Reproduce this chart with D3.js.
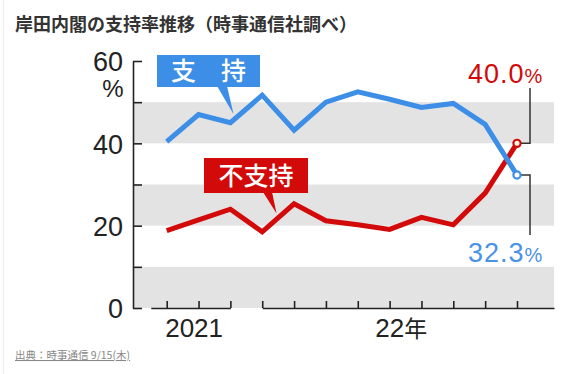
<!DOCTYPE html>
<html>
<head>
<meta charset="utf-8">
<script src="https://cdn.jsdelivr.net/npm/d3@7"></script>
<style>
  body { margin: 0; background: #fff; }
  svg { display: block; }
</style>
</head>
<body>
<div id="chart"></div>
<script>
// 岸田内閣 支持率 (時事通信) 2021/10 - 2022/09
const months = ['2021-10', '2021-11', '2021-12', '2022-01', '2022-02', '2022-03',
    '2022-04', '2022-05', '2022-06', '2022-07', '2022-08', '2022-09']
const support = [40.4, 47.0, 45.0, 51.7, 43.2, 50.0, 52.5, 50.7, 48.7, 49.7, 44.6, 32.3]
const oppose = [18.8, 21.4, 24.0, 18.5, 25.3, 21.2, 20.2, 19.1, 22.0, 20.2, 27.9, 40.0]
const yTicks = [0, 10, 20, 30, 40, 50, 60]
const yLabels = [0, 20, 40, 60]
const bands = [[0, 10], [20, 30], [40, 50]]

const W = 577
const H = 374
const blue = '#3d8ee6'
const red = '#d20a0a'
const numFont = '"Liberation Sans", Arial, sans-serif'
const jpFont = '"Noto Sans CJK JP", "Noto Sans", sans-serif'

const svg = d3.select('#chart')
    .append('svg')
    .attr('width', W)
    .attr('height', H)

const x = d3.scaleLinear()
    .domain([0, months.length - 1])
    .range([166.7, 517])
const y = d3.scaleLinear()
    .domain([0, 60])
    .range([308, 61])
const plotLeft = 133
const plotRight = 554

// faint card border
svg.append('line')
    .attr('x1', 3.5).attr('x2', 3.5)
    .attr('y1', 0).attr('y2', H)
    .attr('stroke', '#ececec')

// title
svg.append('text')
    .attr('x', 15)
    .attr('y', 31)
    .attr('font-family', jpFont)
    .attr('font-weight', 'bold')
    .attr('font-size', 18)
    .attr('fill', '#333')
    .text('岸田内閣の支持率推移（時事通信社調べ）')

// gray bands
svg.selectAll('rect.band')
    .data(bands)
    .enter()
    .append('rect')
    .attr('class', 'band')
    .attr('x', plotLeft)
    .attr('y', d => y(d[1]))
    .attr('width', plotRight - plotLeft)
    .attr('height', d => y(d[0]) - y(d[1]))
    .attr('fill', '#e3e3e3')

// y axis (ticks point inward)
const yAxis = d3.axisLeft(y)
    .tickValues(yTicks)
    .tickSizeInner(-9)
    .tickSizeOuter(0)
    .tickPadding(10)
    .tickFormat(d => yLabels.includes(d) ? d : '')

const yg = svg.append('g')
    .attr('transform', `translate(${plotLeft},0)`)
    .call(yAxis)
yg.selectAll('path, line').attr('stroke', '#222').attr('stroke-width', 1.6)
yg.selectAll('text')
    .attr('font-family', numFont)
    .attr('font-size', 27)
    .attr('fill', '#222')
    .attr('dy', '0.36em')

svg.append('text')
    .attr('x', 113)
    .attr('y', 97)
    .attr('text-anchor', 'middle')
    .attr('font-family', numFont)
    .attr('font-size', 24)
    .attr('fill', '#222')
    .text('%')

// x axis: two year segments
const segs = [
    { from: -0.5, to: 2, ticks: [0, 1, 2] },
    { from: 3, to: x.invert(plotRight), ticks: d3.range(3, 12) }
]
segs.forEach(s => {
    const sx = d3.scaleLinear()
        .domain([s.from, s.to])
        .range([x(s.from), x(s.to)])
    const g = svg.append('g')
        .attr('transform', `translate(0,${y(0)})`)
        .call(d3.axisBottom(sx)
            .tickValues(s.ticks)
            .tickSizeInner(-7)
            .tickSizeOuter(0)
            .tickFormat(''))
    g.selectAll('path, line').attr('stroke', '#222').attr('stroke-width', 1.6)
})

svg.append('text')
    .attr('x', x(0) - 1.5)
    .attr('y', 337)
    .attr('font-family', numFont)
    .attr('font-size', 26)
    .attr('fill', '#222')
    .text('2021')

const yr = svg.append('text')
    .attr('x', x(6.55))
    .attr('y', 337)
    .attr('font-family', numFont)
    .attr('font-size', 26)
    .attr('fill', '#222')
yr.append('tspan').text('22')
yr.append('tspan')
    .attr('font-family', jpFont)
    .attr('font-size', 23)
    .text('年')

// lines
const line = d3.line()
    .x((d, i) => x(i))
    .y(d => y(d))

svg.append('path')
    .datum(oppose)
    .attr('d', line)
    .attr('fill', 'none')
    .attr('stroke', red)
    .attr('stroke-width', 5)
    .attr('stroke-linejoin', 'miter')

svg.append('path')
    .datum(support)
    .attr('d', line)
    .attr('fill', 'none')
    .attr('stroke', blue)
    .attr('stroke-width', 5)
    .attr('stroke-linejoin', 'miter')

// callout labels
function callout(bx, by, bw, bh, base0, base1, tip, color, label, spacing) {
    svg.append('path')
        .attr('d', `M${base0},${by + bh - 1}L${tip[0]},${tip[1]}L${base1},${by + bh - 1}Z`)
        .attr('fill', color)
    svg.append('rect')
        .attr('x', bx).attr('y', by)
        .attr('width', bw).attr('height', bh)
        .attr('fill', color)
    svg.append('text')
        .attr('x', bx + bw / 2)
        .attr('y', by + bh / 2)
        .attr('dy', '0.36em')
        .attr('text-anchor', 'middle')
        .attr('font-family', jpFont)
        .attr('font-weight', 500)
        .attr('font-size', 25)
        .attr('letter-spacing', spacing)
        .attr('fill', '#fff')
        .text(label)
}
const last = months.length - 1
callout(157, 55, 103, 32, 217, 227, [x(2.1), y(45.6) - 6], blue, '支　持', 0)
callout(204, 158, 104, 35, 263, 272, [x(3.45), y(22) - 4], red, '不支持', 0)

// end labels with leaders
const lead = 530
svg.append('path')
    .attr('d', `M${x(last)},${y(oppose[last])}H${lead}V88`)
    .attr('fill', 'none').attr('stroke', '#333').attr('stroke-width', 1.5)
svg.append('path')
    .attr('d', `M${x(last)},${y(support[last])}H${lead}V235`)
    .attr('fill', 'none').attr('stroke', '#333').attr('stroke-width', 1.5)

function endLabel(val, yy, color) {
    const t = svg.append('text')
        .attr('x', 468)
        .attr('y', yy)
        .attr('font-family', numFont)
        .attr('fill', color)
    t.append('tspan').attr('font-size', 27).attr('letter-spacing', 1).text(val.toFixed(1))
    t.append('tspan').attr('font-size', 20).text('%')
}
endLabel(oppose[last], 83, red)
endLabel(support[last], 262, '#4a92e6')

svg.append('circle')
    .attr('cx', x(last)).attr('cy', y(support[last])).attr('r', 3.6)
    .attr('fill', '#fff').attr('stroke', blue).attr('stroke-width', 2.2)
svg.append('circle')
    .attr('cx', x(last)).attr('cy', y(oppose[last])).attr('r', 3.6)
    .attr('fill', '#fffbe6').attr('stroke', red).attr('stroke-width', 2.2)

// source note
svg.append('text')
    .attr('x', 15)
    .attr('y', 359)
    .attr('font-family', jpFont)
    .attr('font-size', 10.5)
    .attr('fill', '#888')
    .attr('text-decoration', 'underline')
    .text('出典：時事通信 9/15(木)')
</script>
</body>
</html>
